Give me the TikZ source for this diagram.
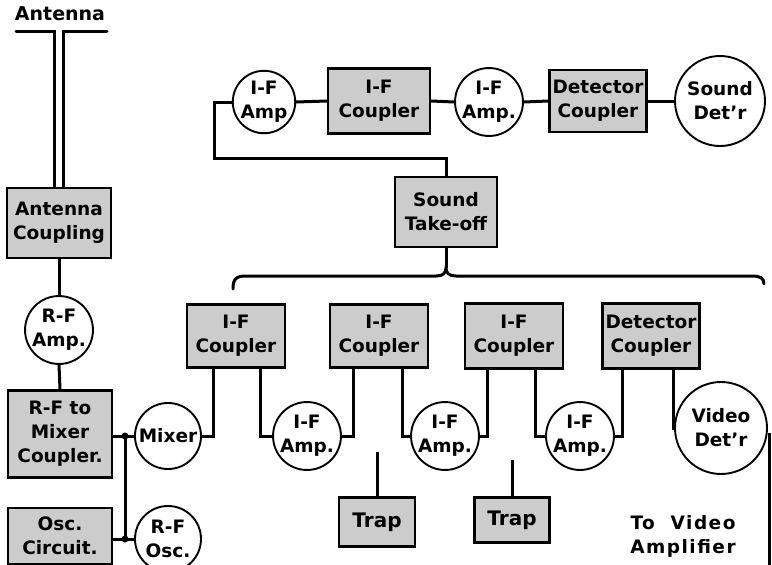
\documentclass[tikz,border=0pt]{standalone}
\usepackage{fontspec}
\setmainfont{DejaVu Sans}
\newcommand\diaglbl{\fontsize{18.5}{24}\selectfont\bfseries}
\tikzset{
  blk/.style={draw=black, line width=2.2pt, fill=black!20, rectangle, inner sep=0pt, align=center, font=\diaglbl},
  stage/.style={draw=black, line width=1.9pt, fill=white, circle, inner sep=0pt, align=center, font=\diaglbl},
  wire/.style={line width=3pt},
  dot/.style={fill=black}
}
\begin{document}
\begin{tikzpicture}[x=1pt,y=-1pt]
\useasboundingbox (0,0) rectangle (772,565);
% antenna section
\node[font=\diaglbl\fontsize{19}{24}\selectfont] (anttxt) at (60,14) {Antenna};
\node[blk, minimum width=104, minimum height=70] (antc) at (59,223) {Antenna\\Coupling};
\node[stage, minimum size=64] (rfamp) at (59,330) {R-F\\Amp.};
\node[blk, minimum width=104, minimum height=87] (rfmix) at (60,434) {R-F to\\Mixer\\Coupler.};
\node[blk, minimum width=104, minimum height=56] (osc) at (60,536) {Osc.\\Circuit.};
\node[stage, minimum size=66] (mixer) at (168,436) {Mixer};
\node[stage, minimum size=66] (rfosc) at (168,539) {R-F\\Osc.};
\coordinate (al) at (16,31);
\coordinate (ai1) at (54,31);
\coordinate (ai2) at (63,31);
\coordinate (ar) at (107,31);
\coordinate (j1) at (125,436);
\coordinate (j2) at (125,539);
% bottom IF chain
\node[blk, minimum width=98, minimum height=63] (if1) at (236,336) {I-F\\Coupler};
\node[stage, minimum size=66] (ifa1) at (307,436) {I-F\\Amp.};
\node[blk, minimum width=98, minimum height=63] (if2) at (379,336) {I-F\\Coupler};
\node[stage, minimum size=66] (ifa2) at (445,436) {I-F\\Amp.};
\node[blk, minimum width=98, minimum height=65] (if3) at (514,336) {I-F\\Coupler};
\node[stage, minimum size=64] (ifa3) at (580,436) {I-F\\Amp.};
\node[blk, minimum width=97, minimum height=65] (dc2) at (651,336) {Detector\\Coupler};
\node[stage, minimum size=92] (vdet) at (721,428) {Video\\Det'r};
\node[blk, minimum width=76, minimum height=49, font=\diaglbl\fontsize{20}{24}\selectfont] (trap1) at (377,522) {Trap};
\node[blk, minimum width=75, minimum height=45, font=\diaglbl\fontsize{20}{24}\selectfont] (trap2) at (512,520) {Trap};
\node[font=\diaglbl\addfontfeature{LetterSpace=8}, align=center] (tva) at (683,536) {To\ \ Video\\Amplifier};
\coordinate (t1top) at (377,452);
\coordinate (t2top) at (512,460);
\coordinate (vout) at (769,565);
% top sound chain
\node[stage, minimum size=62] (ifat1) at (264,102) {I-F\\Amp};
\node[blk, minimum width=102, minimum height=65] (ifct) at (379,101) {I-F\\Coupler};
\node[stage, minimum size=62] (ifat2) at (489,102) {I-F\\Amp.};
\node[blk, minimum width=97, minimum height=62] (dct) at (598,101) {Detector\\Coupler};
\node[stage, minimum size=90] (sdet) at (720,101) {Sound\\Det'r};
\node[blk, minimum width=102, minimum height=70] (stoff) at (446,212) {Sound\\Take-off};
\coordinate (c1) at (214,158);
\coordinate (bm) at (446,268);
\coordinate (bl) at (233,289);
\coordinate (br) at (764,284);
% wires
\draw[wire, line cap=round] (al) -- (ai1) -- (ai1 |- antc.north);
\draw[wire, line cap=round] (ar) -- (ai2) -- (ai2 |- antc.north);
\draw[wire] (antc.south) -- (rfamp.north);
\draw[wire] (rfamp.south) -- (rfmix.north);
\draw[wire] (mixer.west -| rfmix.east) -- (mixer.west);
\draw[wire] (j1) -- (j2);
\draw[wire] (rfosc.west -| osc.east) -- (rfosc.west);
\fill[dot] (j1) circle (3.5pt);
\fill[dot] (j2) circle (3.5pt);
\draw[wire] (mixer.east) -| ([xshift=-23pt]if1.south);
\draw[wire] ([xshift=24pt]if1.south) |- (ifa1.west);
\draw[wire] (ifa1.east) -| ([xshift=-26pt]if2.south);
\draw[wire] ([xshift=23pt]if2.south) |- (ifa2.west);
\draw[wire] (ifa2.east) -| ([xshift=-27pt]if3.south);
\draw[wire] ([xshift=21pt]if3.south) |- (ifa3.west);
\draw[wire] (ifa3.east) -| ([xshift=-29pt]dc2.south);
\draw[wire] ([xshift=22pt]dc2.south) |- (vdet.west);
\draw[wire] ([yshift=-6pt]vdet.east) -| (vout);
\draw[wire] (t1top) -- (trap1.north);
\draw[wire] (t2top) -- (trap2.north);
\draw[wire] (ifat1.east) -- (ifct.west);
\draw[wire] (ifct.east) -- (ifat2.west);
\draw[wire] (ifat2.east) -- (dct.west);
\draw[wire] (dct.east) -- (sdet.west);
\draw[wire] (ifat1.west) -| (c1) -| (stoff.north);
\draw[wire] (stoff.south) -- (bm);
\draw[wire, line cap=round] (bl) .. controls (233,279) and (236,276) .. (246,276)
  -- (436,276) .. controls (443,276) and (446,273) .. (bm)
  .. controls (446,273) and (449,276) .. (456,276)
  -- (752,276) .. controls (760,276) and (764,278) .. (br);
\end{tikzpicture}
\end{document}
